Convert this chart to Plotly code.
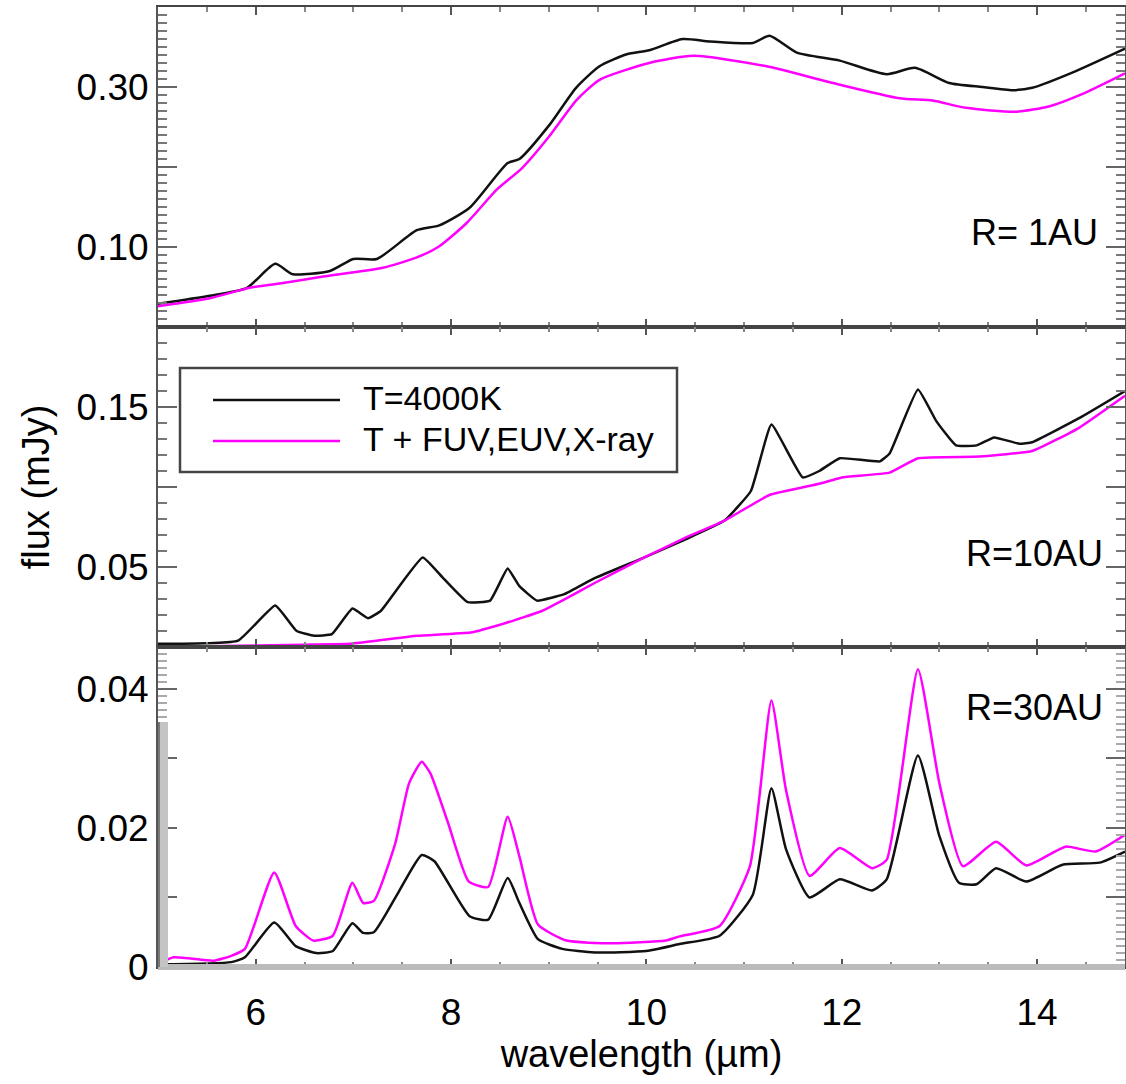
import plotly.graph_objects as go
from plotly.subplots import make_subplots

# ---------------- data ----------------
series_names = ["T=4000K", "T + FUV,EUV,X-ray"]
panel_labels = ["R= 1AU", "R=10AU", "R=30AU"]

# R = 1 AU
r1_wl_base = [5.0, 5.53, 5.91, 6.2, 6.38, 6.76, 7.0, 7.24, 7.65, 7.88, 8.19, 8.58, 8.70, 9.01,
              9.28, 9.52, 9.8, 10.03, 10.37, 10.65, 11.09, 11.26, 11.54, 11.98, 12.46, 12.75,
              13.1, 13.44, 13.75, 13.95, 14.36, 14.9]
r1_flux_base = [0.029, 0.039, 0.049, 0.079, 0.066, 0.070, 0.085, 0.085, 0.121, 0.127, 0.149,
                0.205, 0.210, 0.253, 0.299, 0.326, 0.341, 0.346, 0.360, 0.357, 0.355, 0.364,
                0.343, 0.333, 0.316, 0.324, 0.305, 0.300, 0.296, 0.299, 0.318, 0.348]
r1_wl_xray = [5.0, 5.53, 5.94, 6.28, 6.69, 7.3, 7.65, 7.88, 8.16, 8.47, 8.73, 9.01, 9.28, 9.52,
              10.03, 10.48, 11.23, 11.91, 12.59, 12.93, 13.27, 13.78, 14.13, 14.46, 14.9]
r1_flux_xray = [0.026, 0.036, 0.049, 0.055, 0.063, 0.074, 0.087, 0.101, 0.130, 0.172, 0.199,
                0.239, 0.283, 0.309, 0.330, 0.339, 0.326, 0.305, 0.286, 0.283, 0.274, 0.269,
                0.276, 0.291, 0.317]

# R = 10 AU
r10_wl_base = [5.0, 5.82, 6.2, 6.42, 6.6, 6.78, 6.99, 7.15, 7.28, 7.71, 7.92, 8.17, 8.40, 8.58,
               8.70, 8.88, 9.16, 9.47, 9.98, 10.39, 10.8, 11.07, 11.28, 11.6, 11.77, 11.98,
               12.39, 12.49, 12.78, 12.97, 13.17, 13.38, 13.56, 13.82, 13.95, 14.43, 14.9]
r10_flux_base = [0.002, 0.004, 0.026, 0.010, 0.007, 0.008, 0.024, 0.018, 0.0225, 0.056, 0.043,
                 0.028, 0.029, 0.049, 0.038, 0.029, 0.033, 0.043, 0.056, 0.067, 0.079, 0.0975,
                 0.139, 0.106, 0.110, 0.118, 0.116, 0.121, 0.161, 0.141, 0.126, 0.126, 0.131,
                 0.127, 0.128, 0.143, 0.160]
r10_wl_xray = [5.0, 6.0, 6.96, 7.65, 8.2, 8.56, 8.93, 9.2, 9.47, 9.98, 10.39, 10.8, 11.26, 11.77,
               12.0, 12.49, 12.78, 13.41, 13.95, 14.43, 14.9]
r10_flux_xray = [0.000, 0.001, 0.002, 0.007, 0.009, 0.015, 0.0225, 0.031, 0.040, 0.056, 0.068,
                 0.079, 0.095, 0.102, 0.106, 0.109, 0.118, 0.119, 0.1225, 0.137, 0.157]

# R = 30 AU
r30_wl_base = [5.0, 5.75, 5.89, 6.19, 6.41, 6.62, 6.79, 6.99, 7.1, 7.21, 7.46, 7.70, 7.83, 8.19,
               8.38, 8.58, 8.70, 8.89, 9.14, 9.47, 10.0, 10.34, 10.75, 11.09, 11.28, 11.43,
               11.67, 11.98, 12.31, 12.46, 12.78, 13.0, 13.2, 13.38, 13.58, 13.89, 14.26,
               14.64, 14.9]
r30_flux_base = [0.0004, 0.0007, 0.0014, 0.0064, 0.003, 0.002, 0.0023, 0.0063, 0.0049, 0.005,
                 0.0107, 0.0161, 0.0152, 0.0073, 0.0068, 0.0128, 0.0092, 0.004, 0.0026, 0.0021,
                 0.0023, 0.0033, 0.0045, 0.0104, 0.0257, 0.0169, 0.010, 0.0126, 0.011, 0.0126,
                 0.0304, 0.0188, 0.0121, 0.0119, 0.0142, 0.0123, 0.0147, 0.015, 0.0166]
r30_wl_xray = [5.0, 5.16, 5.57, 5.75, 5.89, 6.19, 6.41, 6.59, 6.79, 6.99, 7.1, 7.21, 7.43, 7.57,
               7.70, 7.79, 7.97, 8.18, 8.38, 8.58, 8.70, 8.89, 9.18, 9.65, 10.2, 10.34, 10.75,
               11.06, 11.28, 11.43, 11.67, 11.98, 12.31, 12.46, 12.78, 13.0, 13.24, 13.58,
               13.89, 14.29, 14.6, 14.9]
r30_flux_xray = [0.0004, 0.0014, 0.0009, 0.0016, 0.0026, 0.0136, 0.0059, 0.0038, 0.0045, 0.0121,
                 0.0092, 0.0095, 0.0178, 0.0264, 0.0295, 0.0278, 0.0207, 0.0123, 0.0115, 0.0216,
                 0.0159, 0.0061, 0.0038, 0.0034, 0.0038, 0.0044, 0.0059, 0.0145, 0.0383,
                 0.0254, 0.0131, 0.0171, 0.0142, 0.0154, 0.0428, 0.0264, 0.0145, 0.018, 0.0146,
                 0.0173, 0.0166, 0.0190]

x_tickvals = [6, 8, 10, 12, 14]
x_ticktext = ["6", "8", "10", "12", "14"]
r1_tickvals = [0.1, 0.2, 0.3]
r1_ticktext = ["0.10", "", "0.30"]
r10_tickvals = [0.05, 0.10, 0.15]
r10_ticktext = ["0.05", "", "0.15"]
r30_tickvals = [0.0, 0.01, 0.02, 0.03, 0.04]
r30_ticktext = ["0", "", "0.02", "", "0.04"]

# ---------------- figure ----------------
W, H = 1126, 1084
ML, MR, MT, MB = 158, 1, 7, 117
PW, PH = W - ML - MR, H - MT - MB

def px(x):
    return (x - ML) / PW

def py(y):
    return (H - MB - y) / PH

FONT = "Liberation Sans, Arial, sans-serif"
BLACK = "#111111"
MAGENTA = "#ff00ff"

fig = make_subplots(rows=3, cols=1, shared_xaxes=True, vertical_spacing=0)

panels = [
    (r1_wl_base, r1_flux_base, r1_wl_xray, r1_flux_xray, 0.6),
    (r10_wl_base, r10_flux_base, r10_wl_xray, r10_flux_xray, 0.35),
    (r30_wl_base, r30_flux_base, r30_wl_xray, r30_flux_xray, 0.5),
]
for i, (wb, fb, wx, fx, sm) in enumerate(panels, start=1):
    fig.add_trace(go.Scatter(x=wb, y=fb, mode="lines", name=series_names[0],
                             line=dict(color=BLACK, width=2.5, shape="spline", smoothing=sm),
                             showlegend=False), row=i, col=1)
    fig.add_trace(go.Scatter(x=wx, y=fx, mode="lines", name=series_names[1],
                             line=dict(color=MAGENTA, width=2.5, shape="spline", smoothing=sm),
                             showlegend=False), row=i, col=1)

tickfont = dict(family=FONT, size=37, color="black")
common_x = dict(range=[5, 14.9], showline=True, linecolor="#444", linewidth=2, mirror="ticks",
                ticks="inside", ticklen=8, tickwidth=2, tickcolor="#555",
                tickvals=x_tickvals, ticktext=x_ticktext,
                minor=dict(ticks="inside", ticklen=5, tickwidth=2, tickcolor="#888", dtick=0.5,
                           tick0=5),
                showgrid=False, zeroline=False, tickfont=tickfont)
for i in range(1, 4):
    fig.update_xaxes(common_x, row=i, col=1)
    if i < 3:
        fig.update_xaxes(showticklabels=False, row=i, col=1)
fig.update_xaxes(ticklabelstandoff=12, row=3, col=1,
                 title=dict(text="wavelength (\u00b5m)", font=dict(family=FONT, size=38, color="black"),
                            standoff=6))

common_y = dict(showline=True, linecolor="#555", linewidth=2, mirror="ticks",
                ticks="inside", ticklen=19, tickwidth=2, tickcolor="#666",
                showgrid=False, zeroline=False, tickfont=tickfont, ticklabelstandoff=0)
fig.update_yaxes(common_y, row=1, col=1, range=[0, 0.4], tickvals=r1_tickvals,
                 ticktext=r1_ticktext,
                 minor=dict(ticks="inside", ticklen=9, tickwidth=2, tickcolor="#777", dtick=0.01,
                            tick0=0))
fig.update_yaxes(common_y, row=2, col=1, range=[0, 0.2], tickvals=r10_tickvals,
                 ticktext=r10_ticktext,
                 minor=dict(ticks="inside", ticklen=9, tickwidth=2, tickcolor="#777", dtick=0.01,
                            tick0=0),
                 title=dict(text="flux (mJy)", font=dict(family=FONT, size=38, color="black"),
                            standoff=15))
fig.update_yaxes(common_y, row=3, col=1, range=[0, 0.046], tickvals=r30_tickvals,
                 ticktext=r30_ticktext,
                 minor=dict(ticks="inside", ticklen=9, tickwidth=2, tickcolor="#aaa", dtick=0.001,
                            tick0=0))

# light grey frame edge at the bottom of the lowest panel (as in the original rendering)
fig.add_shape(type="line", xref="paper", yref="paper", x0=0, x1=1, y0=0, y1=0,
              line=dict(color="#bbbbbb", width=6), layer="above")
fig.add_shape(type="rect", xref="paper", yref="paper", x0=px(158), x1=px(168), y0=py(967),
              y1=py(722), line=dict(width=0), fillcolor="#c4c4c4", layer="above")
fig.add_shape(type="line", xref="paper", yref="paper", x0=px(159), x1=px(159), y0=py(967),
              y1=py(722), line=dict(color="#777", width=2), layer="above")

# panel labels
label_pos = [(1100, 232), (1105, 553), (1105, 707)]
for text, (lx, ly) in zip(panel_labels, label_pos):
    fig.add_annotation(x=px(lx), y=py(ly), xref="paper", yref="paper", text=text,
                       showarrow=False, xanchor="right", yanchor="middle",
                       font=dict(family=FONT, size=36, color="black"))

# legend drawn by hand (long line samples)
fig.add_shape(type="rect", xref="paper", yref="paper", x0=px(180), x1=px(677), y0=py(472),
              y1=py(368), line=dict(color="#444", width=2.5), fillcolor="white", layer="above")
for name, color, ly in [(series_names[0], BLACK, 400), (series_names[1], MAGENTA, 441)]:
    fig.add_shape(type="line", xref="paper", yref="paper", x0=px(213), x1=px(340), y0=py(ly),
                  y1=py(ly), line=dict(color=color, width=2.5), layer="above")
    fig.add_annotation(x=px(361), y=py(ly - 2), xref="paper", yref="paper", text=name,
                       showarrow=False, xanchor="left", yanchor="middle",
                       font=dict(family=FONT, size=34, color="black"))

fig.update_layout(width=W, height=H, margin=dict(l=ML, r=MR, t=MT, b=MB, autoexpand=False),
                  paper_bgcolor="white", plot_bgcolor="white", showlegend=False)

fig.write_html("out.html")
